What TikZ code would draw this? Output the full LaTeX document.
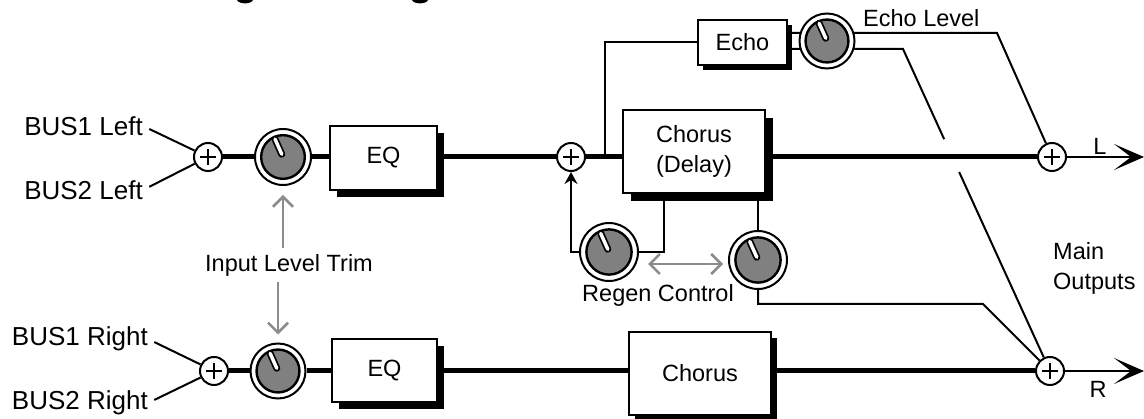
\documentclass[tikz,border=0pt]{standalone}
\usepackage{fontspec}
\setmainfont{Liberation Sans}
\usetikzlibrary{arrows.meta,calc,shadows,backgrounds}
\definecolor{knobgray}{RGB}{128,128,128}
\definecolor{trimgray}{RGB}{140,140,140}
\tikzset{
  thinline/.style={line width=2pt},
  thickline/.style={line width=5pt},
  sumnode/.style={circle, draw, line width=2pt, fill=white, minimum size=28pt, inner sep=0pt,
    path picture={
      \draw[line width=2.6pt] ([xshift=-8pt]path picture bounding box.center) -- ([xshift=8pt]path picture bounding box.center);
      \draw[line width=2.6pt] ([yshift=-8pt]path picture bounding box.center) -- ([yshift=8pt]path picture bounding box.center);}},
  knob/.style={circle, draw, line width=2pt, fill=white, minimum size=#1, inner sep=0pt,
    path picture={
      \draw[line width=2.4pt, fill=knobgray] (path picture bounding box.center) circle[radius=0.39*#1];
      \draw[line width=7pt, line cap=round] ([shift={(114:3pt)}]path picture bounding box.center) -- ([shift={(114:0.35*#1)}]path picture bounding box.center);
      \draw[line width=3.5pt, line cap=round, white] ([shift={(114:3pt)}]path picture bounding box.center) -- ([shift={(114:0.35*#1)}]path picture bounding box.center);}},
  knob/.default=56pt,
  fxbox/.style={draw, line width=2pt, fill=white, inner sep=0pt, align=center,
    drop shadow={shadow xshift=#1, shadow yshift=-#1, fill=black, opacity=1}},
  fxbox/.default=7pt,
  lbl/.style={inner sep=0pt},
  buslbl/.style={inner sep=0pt, font=\fontsize{26}{30}\selectfont},
  trimarrow/.style={draw=trimgray, line width=2.5pt},
  outarrow/.style={thinline, -{Stealth[length=30pt,width=26pt,inset=17pt]}},
}
\begin{document}
\begin{tikzpicture}[x=1pt,y=-1pt,font=\fontsize{23.5}{30}\selectfont]
\useasboundingbox (0,0) rectangle (1144,419);
% cut-off title descenders
\fill (237,0) .. controls (239,4.5) and (251,4.5) .. (253,0) -- cycle;
\fill (412,0) .. controls (414,4.5) and (426,4.5) .. (428,0) -- cycle;

% left channel
\node[buslbl, anchor=east] (tL1) at (143,126) {BUS1 Left};
\node[buslbl, anchor=east] (tL2) at (143,190) {BUS2 Left};
\node[sumnode] (s1) at (208,157) {};
\node[knob] (k1) at (283,157) {};
\node[fxbox, minimum width=107pt, minimum height=64pt] (eq1) at (383.5,158) {EQ};
\node[sumnode] (s2) at (571,157) {};
\node[fxbox=8pt, minimum width=142pt, minimum height=83pt] (chd) at (694,151.5) {Chorus\\(Delay)};
\node[fxbox=5pt, minimum width=89pt, minimum height=45pt] (echo) at (742.5,42.5) {Echo};
\node[knob=55pt] (ek) at (827,41) {};
\node[lbl, anchor=west] (el) at (863,18) {Echo Level};
\node[knob=58pt] (kr1) at (609,252) {};
\node[knob=58pt] (kr2) at (758,260) {};
\node[lbl] (rc) at (658,295) {Regen Control};
\node[sumnode] (sL) at (1052,157) {};
\node[lbl] (lL) at (1100,146) {L};

% trim label
\node[lbl] (ilt) at (289,265) {Input Level Trim};

% right channel
\node[buslbl, anchor=east] (tR1) at (148,339) {BUS1 Right};
\node[buslbl, anchor=east] (tR2) at (148,403) {BUS2 Right};
\node[sumnode] (sR1) at (214,371) {};
\node[knob=55pt] (k3) at (278,371) {};
\node[fxbox, minimum width=105pt, minimum height=63pt] (eq2) at (384.5,370.5) {EQ};
\node[fxbox=6pt, minimum width=142pt, minimum height=83pt] (ch2) at (700,373.5) {Chorus};
\node[sumnode] (sR) at (1050,371) {};
\node[lbl] (lR) at (1098,389) {R};
\node[lbl, anchor=west, align=left] (mo) at (1053,268) {Main\\Outputs};

\coordinate (outL) at (1144,157);
\coordinate (outR) at (1144,371);
\coordinate (br) at (605,157);
\coordinate (ea) at (997,33);
\coordinate (eb) at (903,49);
\coordinate (rg) at (664,252);
\coordinate (rb) at (983,304);
\coordinate (ga1) at (648,264);
\coordinate (ga2) at (723,264);

\begin{scope}[on background layer]
  % inputs
  \draw[thinline, shorten <=7pt] (tL1.east) -- (s1);
  \draw[thinline, shorten <=7pt] (tL2.east) -- (s1);
  \draw[thinline, shorten <=7pt] (tR1.east) -- (sR1);
  \draw[thinline, shorten <=7pt] (tR2.east) -- (sR1);
  % main left path
  \draw[thickline] (s1) -- (k1);
  \draw[thickline] (k1) -- (k1 -| eq1.west);
  \draw[thickline] (eq1.east |- s2) -- (s2);
  \draw[thickline] (s2) -- (s2 -| chd.west);
  \draw[thickline] (chd.east |- sL) -- (sL);
  % echo branch
  \draw[thinline] (br) |- (echo);
  \draw[thinline] (echo.east |- ea) -- (ea) -- (sL);
  \draw[thinline] (echo.east |- eb) -- (eb) -- ($(eb)!0.28!(sR.center)$);
  \draw[thinline] ($(eb)!0.382!(sR.center)$) -- (sR);
  % regen
  \draw[thinline] (rg |- chd.south) -- (rg) -- (kr1);
  \draw[thinline, -{Stealth[length=12pt,width=13pt,inset=4pt]}] (kr1) -| (s2);
  \draw[thinline] (kr2 |- chd.south) -- (kr2);
  \draw[thinline] (kr2) |- (rb) -- (sR);
  % main right path
  \draw[thickline] (sR1) -- (k3);
  \draw[thickline] (k3) -- (k3 -| eq2.west);
  \draw[thickline] (eq2.east |- sR1) -- (sR1 -| ch2.west);
  \draw[thickline] (ch2.east |- sR) -- (sR);
  % outputs
  \draw[outarrow] (sL) -- (outL);
  \draw[outarrow] (sR) -- (outR);
\end{scope}

% gray control arrows
\draw[trimarrow, shorten <=6pt, shorten >=9pt, -{Straight Barb[length=10pt,width=20pt]}] (ilt.north -| k1) -- (k1);
\draw[trimarrow, shorten <=6pt, shorten >=8pt, -{Straight Barb[length=10pt,width=20pt]}] (ilt.south -| k3) -- (k3);
\draw[trimarrow, {Straight Barb[length=10pt,width=20pt]}-{Straight Barb[length=10pt,width=20pt]}] (ga1) -- (ga2);
\end{tikzpicture}
\end{document}
